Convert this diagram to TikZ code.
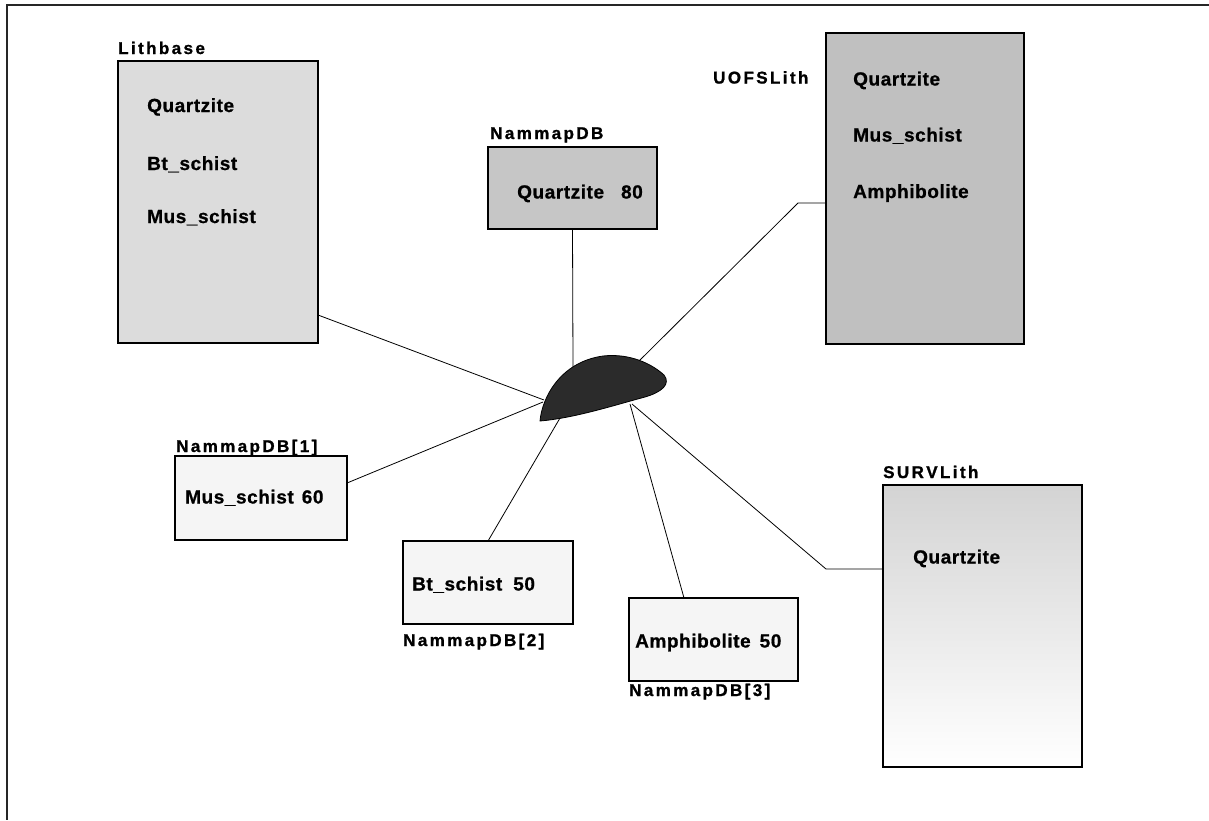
\documentclass[tikz,border=0pt]{standalone}
\usepackage{fontspec}
\setmainfont{Liberation Sans}[BoldFont={Liberation Sans Bold}]
\definecolor{stipple}{HTML}{DCDCDC}
\definecolor{stippledark}{HTML}{C0C0C0}
\definecolor{stipplemid}{HTML}{C6C6C6}
\definecolor{stipplefaint}{HTML}{F5F5F5}
\definecolor{blobfill}{HTML}{2B2B2B}
% widely tracked title lettering
\makeatletter
\def\tracked#1{\tracked@#1\relax}
\def\tracked@#1{\ifx\relax#1\else#1\kern2.4pt\expandafter\tracked@\fi}
\makeatother
\tikzset{
  table/.style={draw=black, line width=1.1pt, rectangle, inner sep=0pt, outer sep=0pt},
  tabletitle/.style={anchor=base west, inner sep=0pt,
    font=\bfseries\fontsize{17}{19}\selectfont\addfontfeature{FakeBold=1.2}},
  entry/.style={anchor=base west, inner sep=0pt,
    font=\bfseries\fontsize{19}{22}\selectfont\addfontfeature{LetterSpace=3,FakeBold=0.8}},
  link/.style={draw=black, line width=0.8pt},
}
\begin{document}
\begin{tikzpicture}[x=1pt,y=-1pt]
\useasboundingbox (0,0) rectangle (1209,820);
% page frame (top and left edges)
\draw[line width=1.6pt, black!85] (1209,5) -- (7,5) -- (7,820);

% tables
\node[table, fill=stipple, minimum width=200pt, minimum height=282pt] (lith) at (218,202) {};
\node[table, fill=stippledark, minimum width=198pt, minimum height=311pt] (uofs) at (925,188.5) {};
\node[table, fill=stipplemid, minimum width=169pt, minimum height=82pt] (nm) at (572.5,188) {};
\node[table, fill=stipplefaint, minimum width=172pt, minimum height=84pt] (nmA) at (261,498) {};
\node[table, fill=stipplefaint, minimum width=170pt, minimum height=83pt] (nmB) at (488,582.5) {};
\node[table, fill=stipplefaint, minimum width=169pt, minimum height=83pt] (nmC) at (713.5,639.5) {};
\node[table, top color=black!17, middle color=black!7, bottom color=white, minimum width=199pt, minimum height=282pt] (surv) at (982.5,626) {};

% table titles
\node[tabletitle] (lithT) at (118,54) {\tracked{Lithbase}};
\node[tabletitle] (uofsT) at (713,83.5) {\tracked{UOFSLith}};
\node[tabletitle] (nmT) at (490,139) {\tracked{NammapDB}};
\node[tabletitle] (nmAT) at (176,452) {\tracked{NammapDB[1]}};
\node[tabletitle] (nmBT) at (403,646) {\tracked{NammapDB[2]}};
\node[tabletitle] (nmCT) at (629,696) {\tracked{NammapDB[3]}};
\node[tabletitle] (survT) at (883,478) {\tracked{SURVLith}};

% table entries
\node[entry] (lith1) at (147,112) {Quartzite};
\node[entry] (lith2) at (147,170) {Bt\_schist};
\node[entry] (lith3) at (147,223) {Mus\_schist};
\node[entry] (uofs1) at (853,85.5) {Quartzite};
\node[entry] (uofs2) at (853,141.5) {Mus\_schist};
\node[entry] (uofs3) at (853,198) {Amphibolite};
\node[entry] (nm1) at (517,198.5) {Quartzite\hspace{17pt}80};
\node[entry] (nmA1) at (185,503.5) {Mus\_schist\hspace{8pt}60};
\node[entry] (nmB1) at (412,590.5) {Bt\_schist\hspace{11pt}50};
\node[entry] (nmC1) at (635,647.5) {Amphibolite\hspace{9pt}50};
\node[entry] (surv1) at (913,563.5) {Quartzite};

% contact points on the shared outcrop
\coordinate (pLith) at (544,400);
\coordinate (pNm) at (573,367);
\coordinate (pUofs) at (637,363);
\coordinate (pNmA) at (543,402);
\coordinate (pNmB) at (560,418);
\coordinate (pNmC) at (630,404);
\coordinate (pSurv) at (632,404);
\coordinate (kUofs) at (798,203);
\coordinate (kSurv) at (826,569);

% links
\draw[link] ([yshift=28pt]lith.south east) -- (pLith);
\draw[link] (nm.south) -- (pNm);
\draw[link] ([yshift=-14.5pt]uofs.west) -- (kUofs) -- (pUofs);
\draw[link] ([yshift=15pt]nmA.east) -- (pNmA);
\draw[link] (nmB.north) -- (pNmB);
\draw[link] ([xshift=-29.5pt]nmC.north) -- (pNmC);
\draw[link] ([yshift=57pt]surv.west) -- (kSurv) -- (pSurv);

% the outcrop polygon
\filldraw[fill=blobfill, draw=black, line width=0.8pt]
  (540,421) .. controls (542,398) and (560,362) .. (603,356)
  .. controls (630,353) and (652,364) .. (664,375)
  .. controls (671,384) and (662,392) .. (645,397)
  .. controls (615,405) and (575,418) .. (540,421) -- cycle;
\end{tikzpicture}
\end{document}
